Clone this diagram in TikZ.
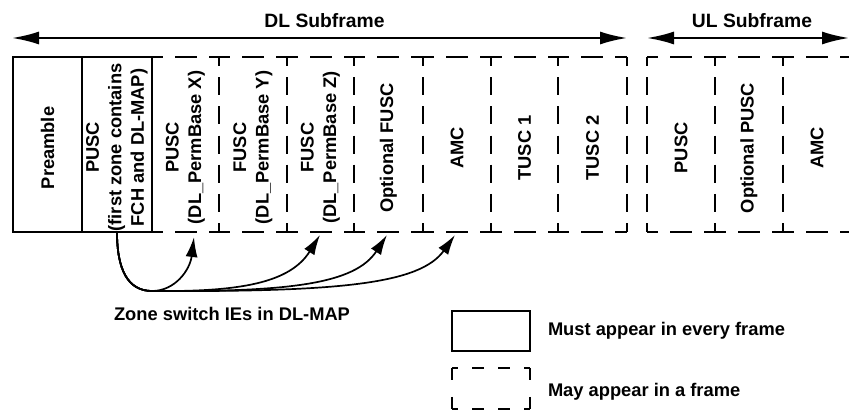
\documentclass[tikz,border=0pt]{standalone}
\usepackage{fontspec}
\setmainfont{Liberation Sans}
\usetikzlibrary{arrows.meta}

\begin{document}
\begin{tikzpicture}[x=1pt,y=-1pt,
  txt/.style={font=\fontsize{18.3pt}{22.5pt}\selectfont\bfseries, inner sep=0pt, outer sep=0pt},
  headtxt/.style={font=\fontsize{19.3pt}{23pt}\selectfont\bfseries, inner sep=0pt, outer sep=0pt},
  celltxt/.style={txt, rotate=90, align=center},
  cell/.style={minimum width=#1, minimum height=175pt, inner sep=0pt, outer sep=0pt},
  frameline/.style={line width=2pt},
  hdash/.style={line width=2pt, dash pattern=on 22pt off 12pt, dash phase=11pt},
  vdash/.style={line width=2pt, dash pattern=on 18pt off 11.17pt, dash phase=9pt},
  keyh/.style={line width=2pt, dash pattern=on 12pt off 14pt, dash phase=6pt},
  keyv/.style={line width=2pt, dash pattern=on 24pt off 17pt, dash phase=12pt},
  spanarrow/.style={line width=2pt, {Latex[length=27pt,width=13pt]}-{Latex[length=27pt,width=13pt]}},
  zonearrow/.style={line width=1.7pt, -{Latex[length=20pt,width=12pt]}},
]
% page frame
\fill[white] (0,0) rectangle (849,411);
\useasboundingbox (0,0) rectangle (849,411);

% zones of the frame
\node[cell=69] (c1) at (47.5,144.5) {};
\node[cell=70] (c2) at (117,144.5) {};
\node[cell=67] (c3) at (185.5,144.5) {};
\node[cell=68] (c4) at (253,144.5) {};
\node[cell=67] (c5) at (320.5,144.5) {};
\node[cell=69] (c6) at (388.5,144.5) {};
\node[cell=68] (c7) at (457,144.5) {};
\node[cell=67] (c8) at (524.5,144.5) {};
\node[cell=69] (c9) at (592.5,144.5) {};
\node[cell=68] (c10) at (681,144.5) {};
\node[cell=68] (c11) at (749,144.5) {};
\node[cell=68] (c12) at (817,144.5) {};

% mandatory zones: solid outline
\draw[frameline] (c1.north west) rectangle (c2.south east);
\draw[frameline] (c1.north east) -- (c1.south east);

% optional zones: dashed outline
\foreach \c in {c3,c4,c5,c6,c7,c8,c9,c10,c11,c12}{
  \draw[hdash] (\c.north west) -- (\c.north east);
  \draw[hdash] (\c.south west) -- (\c.south east);
  \draw[vdash] (\c.north east) -- (\c.south east);
}
\draw[vdash] (c10.north west) -- (c10.south west);

% zone names
\node[celltxt] (t1) at ([yshift=-3.5pt]c1.center) {Preamble};
\node[celltxt] (t2) at ([yshift=-3pt]c2.center) {PUSC\\(first zone contains\\FCH and DL-MAP)};
\node[celltxt] (t3) at ([yshift=-3pt]c3.center) {PUSC\\(DL\_PermBase X)};
\node[celltxt] (t4) at ([yshift=-3pt]c4.center) {FUSC\\(DL\_PermBase Y)};
\node[celltxt] (t5) at ([yshift=-3pt]c5.center) {FUSC\\(DL\_PermBase Z)};
\node[celltxt] (t6) at ([yshift=-3.5pt]c6.center) {Optional FUSC};
\node[celltxt] (t7) at ([yshift=-3.5pt]c7.center) {AMC};
\node[celltxt] (t8) at ([yshift=-3.5pt]c8.center) {TUSC 1};
\node[celltxt] (t9) at ([yshift=-3.5pt]c9.center) {TUSC 2};
\node[celltxt] (t10) at ([yshift=-3.5pt]c10.center) {PUSC};
\node[celltxt] (t11) at ([yshift=-3.5pt]c11.center) {Optional PUSC};
\node[celltxt] (t12) at ([yshift=-3.5pt]c12.center) {AMC};

% subframe extents
\coordinate (dlL) at (12,38);
\coordinate (dlR) at (627,38);
\coordinate (ulL) at (647,38);
\coordinate (ulR) at (849,38);
\draw[spanarrow] (dlL) -- (dlR);
\draw[spanarrow] (ulL) -- (ulR);
\node[headtxt] (dl) at (324.5,20.5) {DL Subframe};
\node[headtxt] (ul) at (752,20.5) {UL Subframe};

% zone switch pointers
\coordinate (hub) at (152,291);
\draw[zonearrow] (c2.south) .. controls (117,270) and (128,291) .. (hub)
  .. controls (175,291) and (190,270) .. ([xshift=8.5pt,yshift=-5pt]c3.south);
\draw[zonearrow] (c2.south) .. controls (117,270) and (128,291) .. (hub)
  .. controls (240,292) and (290,283) .. ([xshift=-0.5pt,yshift=-3pt]c5.south);
\draw[zonearrow] (c2.south) .. controls (117,270) and (128,291) .. (hub)
  .. controls (290,292) and (355,284) .. ([xshift=-1.5pt,yshift=-3pt]c6.south);
\draw[zonearrow] (c2.south) .. controls (117,270) and (128,291) .. (hub)
  .. controls (340,292) and (420,284) .. ([xshift=-2pt,yshift=-3pt]c7.south);
\node[txt] (zs) at (232,314) {Zone switch IEs in DL-MAP};

% key
\node[draw, frameline, minimum width=78pt, minimum height=40pt, inner sep=0pt, outer sep=0pt] (k1) at (491,331) {};
\node[minimum width=78pt, minimum height=41pt, inner sep=0pt, outer sep=0pt] (k2) at (491,388.5) {};
\draw[keyh] (k2.north west) -- (k2.north east);
\draw[keyh] (k2.south west) -- (k2.south east);
\draw[keyv] (k2.north west) -- (k2.south west);
\draw[keyv] (k2.north east) -- (k2.south east);
\node[txt, anchor=west] (k1t) at (548,330.5) {Must appear in every frame};
\node[txt, anchor=west] (k2t) at (548,391.5) {May appear in a frame};
\end{tikzpicture}
\end{document}
